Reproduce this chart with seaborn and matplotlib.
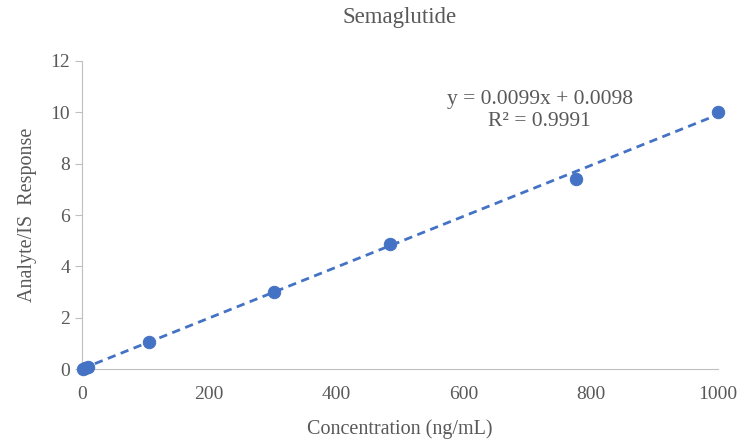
import numpy as np
import pandas as pd
import matplotlib
matplotlib.use("Agg")
import matplotlib.pyplot as plt
import seaborn as sns

# =========================
# DATA
# =========================
concentration = [1, 5, 10, 105, 302, 485, 777, 1000]
response = [0.01, 0.05, 0.10, 1.05, 3.00, 4.87, 7.40, 10.00]
slope = 0.0099
intercept = 0.0098
r_squared = 0.9991

df = pd.DataFrame({"conc": concentration, "resp": response})

fit_x = np.array([0, 1000])
fit = pd.DataFrame({"conc": fit_x, "resp": slope * fit_x + intercept})

# =========================
# STYLE
# =========================
sns.set_style("white")
plt.rcParams["font.family"] = ["Liberation Serif", "DejaVu Serif"]
grey = "#595959"
blue = "#4472C4"

fig = plt.figure(figsize=(7.42, 4.42), dpi=100)
ax = fig.add_axes([0.1105, 0.165, 0.857, 0.697])

# =========================
# PLOT
# =========================
sns.lineplot(
    data=fit, x="conc", y="resp", ax=ax,
    color=blue, linewidth=2, linestyle=(0, (3, 2))
)
sns.scatterplot(
    data=df, x="conc", y="resp", ax=ax,
    color=blue, s=80, edgecolor=blue, clip_on=False, zorder=3
)

ax.set_xlim(0, 1000)
ax.set_ylim(0, 12)
ax.set_xticks(range(0, 1001, 200))
ax.set_yticks(range(0, 13, 2))

ax.set_title("Semaglutide", fontsize=16.5, color=grey, pad=27)
ax.set_xlabel("Concentration (ng/mL)", fontsize=14.5, color=grey, labelpad=12)
ax.set_ylabel("Analyte/IS  Response", fontsize=14.5, color=grey, labelpad=10)

ax.tick_params(axis="both", labelsize=14, colors=grey)
ax.tick_params(axis="y", length=5, width=0.8, color="#BFBFBF", direction="out", left=True)
ax.tick_params(axis="x", length=0, pad=12)

for side in ["top", "right"]:
    ax.spines[side].set_visible(False)
for side in ["left", "bottom"]:
    ax.spines[side].set_color("#BFBFBF")
    ax.spines[side].set_linewidth(0.8)

ax.text(
    0.72, 0.84,
    f"y = {slope}x + {intercept}\nR² = {r_squared}",
    transform=ax.transAxes, ha="center", va="center",
    fontsize=15.5, color=grey, linespacing=1.25
)

fig.savefig("out.png", dpi=100)
